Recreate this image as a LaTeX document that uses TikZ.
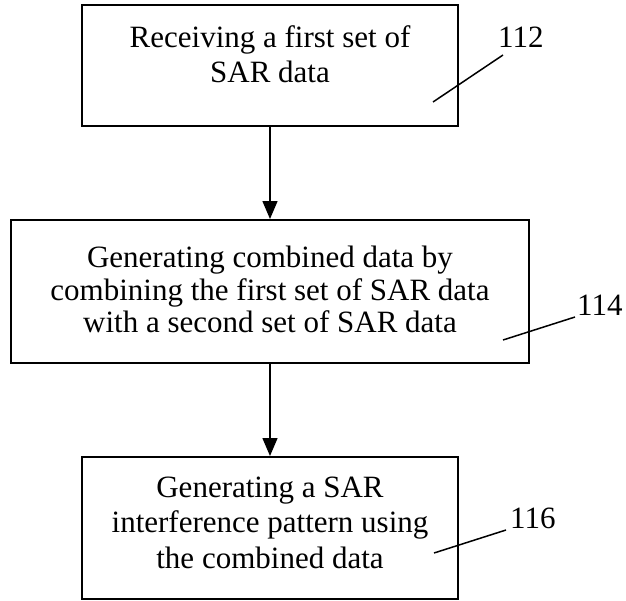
\documentclass[tikz,border=0pt]{standalone}
\usepackage{fontspec}
\setmainfont{Liberation Serif}
\usetikzlibrary{arrows.meta}
\begin{document}
\begin{tikzpicture}[x=1pt,y=-1pt,
  stepbox/.style={draw=black, line width=2pt, rectangle, inner sep=0pt},
  txt/.style={anchor=base, inner sep=0pt, font=\fontsize{31}{35}\selectfont},
  reflabel/.style={anchor=base west, inner sep=0pt, font=\fontsize{31}{35}\selectfont},
  arr/.style={line width=1.5pt, -{Triangle[width=15pt,length=18pt]}},
  leader/.style={line width=1.5pt}]
\useasboundingbox (0,0) rectangle (626,600);
% boxes
\node[stepbox, minimum width=376pt, minimum height=121pt] (b1) at (270,65.5) {};
\node[stepbox, minimum width=518pt, minimum height=143pt] (b2) at (270,291.5) {};
\node[stepbox, minimum width=376pt, minimum height=141.5pt] (b3) at (270,527.75) {};
% texts
\node[txt] (t1a) at (270,47) {Receiving a first set of};
\node[txt] (t1b) at (270,82) {SAR data};
\node[txt] (t2a) at (270,267.5) {Generating combined data by};
\node[txt] (t2b) at (270,300) {combining the first set of SAR data};
\node[txt] (t2c) at (270,332.5) {with a second set of SAR data};
\node[txt] (t3a) at (270,497) {Generating a SAR};
\node[txt] (t3b) at (270,532.5) {interference pattern using};
\node[txt] (t3c) at (270,568) {the combined data};
% arrows
\draw[arr] (b1.south) -- (b2.north);
\draw[arr] (b2.south) -- (b3.north);
% reference labels
\node[reflabel] (n112) at (498,47) {112};
\node[reflabel] (n114) at (577,315) {114};
\node[reflabel] (n116) at (510,528) {116};
\coordinate (p112) at (433,102);
\coordinate (p114) at (503,340);
\coordinate (p116) at (434,553);
\draw[leader] (p112) -- ([shift={(5,8)}]n112.base west);
\draw[leader] (p114) -- ([shift={(-2,2)}]n114.base west);
\draw[leader] (p116) -- ([shift={(-4,2)}]n116.base west);
\end{tikzpicture}
\end{document}
